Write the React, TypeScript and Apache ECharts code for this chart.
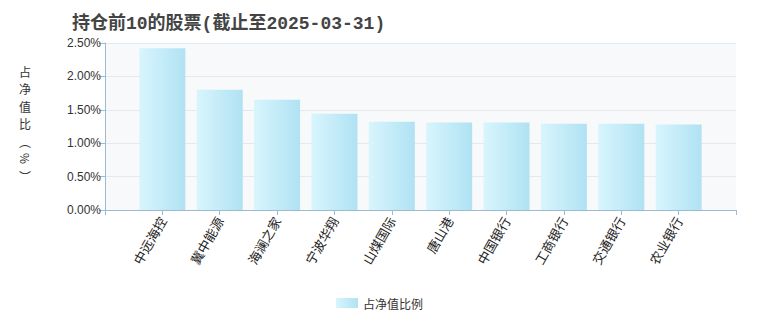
import React, { useEffect, useRef } from "react";
import * as echarts from "echarts";

const titleText = "持仓前10的股票(截止至2025-03-31)";
const categories = ["中远海控", "冀中能源", "海澜之家", "宁波华翔", "山煤国际", "唐山港", "中国银行", "工商银行", "交通银行", "农业银行"];
const values = [2.42, 1.8, 1.65, 1.44, 1.32, 1.31, 1.31, 1.29, 1.29, 1.28];
const seriesName = "占净值比例";
const yAxisName = ["占", "净", "值", "比", "︵", "%", "︶"];
const yMin = 0;
const yMax = 2.5;
const yInterval = 0.5;

export default function App() {
  const ref = useRef<HTMLDivElement>(null);
  useEffect(() => {
    document.body.style.margin = "0";
    if (!ref.current) return;
    const chart = echarts.init(ref.current, null, { renderer: "svg" });
    const barColor = new echarts.graphic.LinearGradient(0, 0, 1, 0, [
      { offset: 0, color: "#d8f5fd" },
      { offset: 1, color: "#b0e2f3" },
    ]);
    const axisCats = ["", ...categories, ""];
    const axisVals = [null, ...values, null];
    const nameY = [71, 88.5, 106, 123.5, 141, 158.5, 176];
    const nameGraphics = yAxisName.map((ch, i) => ({
      type: "text",
      x: 25,
      y: nameY[i],
      rotation: ch === "%" ? -Math.PI / 2 : 0,
      style: {
        text: ch,
        fontSize: 12,
        fill: "#333333",
        align: "center",
        verticalAlign: "middle",
        fontFamily: '"Noto Sans CJK SC", sans-serif',
      },
    }));
    chart.setOption({
      animation: false,
      backgroundColor: "#ffffff",
      title: {
        text: titleText,
        left: 67,
        top: 10,
        textStyle: {
          fontSize: 18,
          fontWeight: "bold",
          color: "#444444",
          fontFamily: '"Liberation Mono", "Noto Sans CJK SC", monospace',
        },
      },
      legend: {
        bottom: 16,
        left: 331,
        itemWidth: 22,
        itemHeight: 10,
        itemGap: 8,
        icon: "rect",
        textStyle: { fontSize: 12, color: "#333333", fontFamily: '"Noto Sans CJK SC", sans-serif' },
        data: [seriesName],
      },
      graphic: nameGraphics,
      grid: {
        left: 105,
        right: 24,
        top: 43,
        bottom: 120,
        show: true,
        backgroundColor: "#f8f9fb",
        borderWidth: 0,
        containLabel: false,
      },
      xAxis: {
        type: "category",
        data: axisCats,
        boundaryGap: false,
        axisLine: { show: true, lineStyle: { color: "#9dbbd0", width: 1 } },
        axisTick: { show: true, length: 5, lineStyle: { color: "#9dbbd0" } },
        axisLabel: {
          interval: 0,
          rotate: 60,
          fontSize: 13,
          color: "#222222",
          margin: 8,
          fontFamily: '"Noto Sans CJK SC", sans-serif',
        },
        splitLine: { show: false },
      },
      yAxis: {
        type: "value",
        min: yMin,
        max: yMax,
        interval: yInterval,
        axisLine: { show: true, lineStyle: { color: "#9dbbd0", width: 1 } },
        axisTick: { show: true, length: 6, lineStyle: { color: "#9dbbd0" } },
        axisLabel: {
          fontSize: 12,
          color: "#333333",
          margin: 4,
          fontFamily: '"Liberation Sans", Arial, sans-serif',
          formatter: (v: number) => v.toFixed(2) + "%",
        },
        splitLine: { show: true, lineStyle: { color: "#e4e8f0", width: 1 } },
      },
      series: [
        {
          name: seriesName,
          type: "bar",
          data: axisVals,
          barWidth: 46,
          itemStyle: { color: barColor },
        },
      ],
    });
    return () => chart.dispose();
  }, []);
  return <div ref={ref} style={{ width: 760, height: 330 }} />;
}
